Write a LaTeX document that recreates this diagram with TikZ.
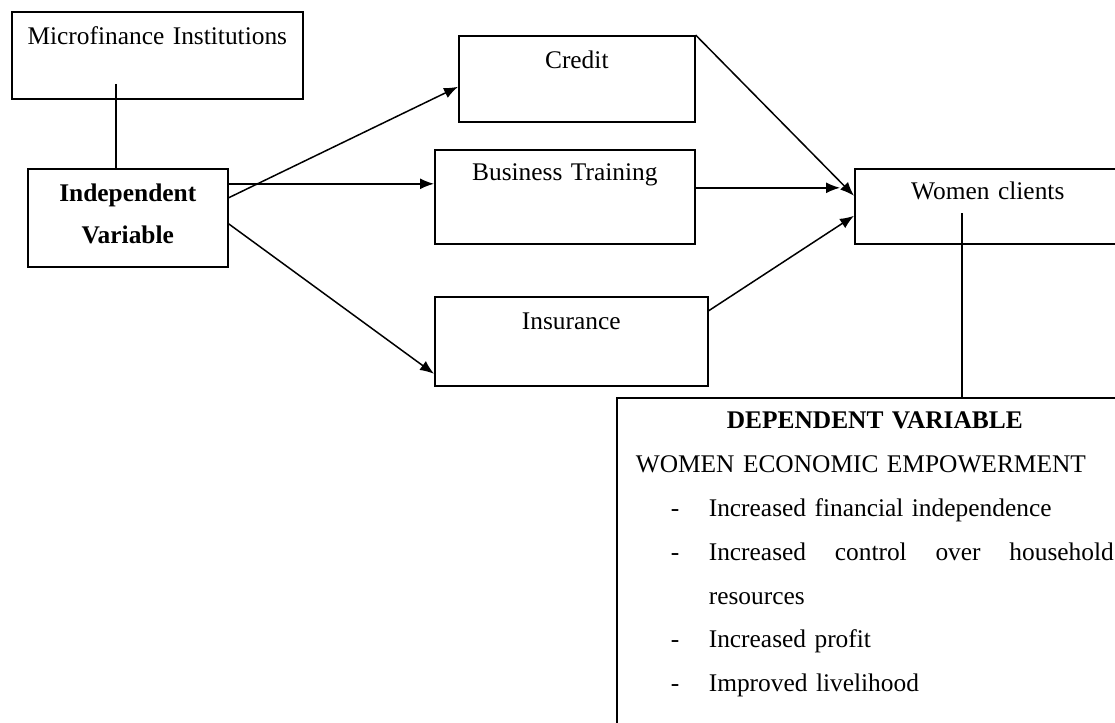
\documentclass[tikz,border=0pt]{standalone}
\usepackage{fontspec}
\setmainfont{Liberation Serif}
\usetikzlibrary{arrows.meta,calc}
\begin{document}
\begin{tikzpicture}[x=1pt,y=-1pt,
  box/.style={draw, line width=1.6pt, inner sep=0pt, align=center, anchor=north west,
    font=\fontsize{25.4}{42}\selectfont},
  arr/.style={-{Latex[length=14pt,width=11pt]}, line width=1.5pt},
  link/.style={line width=1.5pt}]
\useasboundingbox (0,0) rectangle (1115,722);
\node[box, text width=291pt, text height=33pt, text depth=54pt] (mfi) at (11,11) {Microfinance Institutions};
\node[box, font=\fontsize{25.4}{42}\selectfont\bfseries, text width=200pt, text height=33pt, text depth=65pt] (iv) at (27,168) {Independent\\Variable};
\node[box, text width=236pt, text height=33pt, text depth=53pt] (credit) at (458,35) {Credit};
\node[box, text width=260pt, text height=31pt, text depth=63pt] (bt) at (434,149) {Business Training};
\node[box, text width=273pt, text height=33pt, text depth=56pt] (ins) at (434,296) {Insurance};
\node[box, text width=266pt, text height=31pt, text depth=44pt] (wc) at (854,168) {Women clients};
\node[box, align=left, inner xsep=19pt, inner ysep=0pt, text width=478pt, text height=31pt, text depth=340pt,
  font=\fontsize{25.4}{43.8}\selectfont] (dv) at (616,397) {%
\makebox[478pt][c]{\bfseries DEPENDENT VARIABLE}\\
WOMEN ECONOMIC EMPOWERMENT\\
\makebox[73pt][l]{\hspace*{35pt}-}Increased financial independence\\
\makebox[73pt][l]{\hspace*{35pt}-}\makebox[405pt][s]{Increased\hfill control\hfill over\hfill household}\\
\hspace*{73pt}resources\\
\makebox[73pt][l]{\hspace*{35pt}-}Increased profit\\
\makebox[73pt][l]{\hspace*{35pt}-}Improved livelihood};
% connectors
\coordinate (m1) at (116,84);
\draw[link] (m1) -- (m1 |- iv.north);
\draw[arr] ([yshift=20pt]iv.east) -- ([yshift=-8pt]credit.west);
\draw[arr] ([yshift=34pt]iv.east) -- ([yshift=13pt]bt.west);
\draw[arr] ([yshift=-6pt]iv.east) -- ([yshift=-32.5pt]ins.west);
\draw[arr] (credit.north east) -- ([yshift=10.5pt]wc.west);
\draw[arr] ([yshift=9pt]bt.east) -- ([xshift=-14pt,yshift=18.5pt]wc.west);
\draw[arr] ([yshift=30.5pt]ins.east) -- ([yshift=-9.5pt]wc.west);
\coordinate (w1) at (962,213);
\draw[link] (w1) -- (w1 |- dv.north);
\end{tikzpicture}
\end{document}
